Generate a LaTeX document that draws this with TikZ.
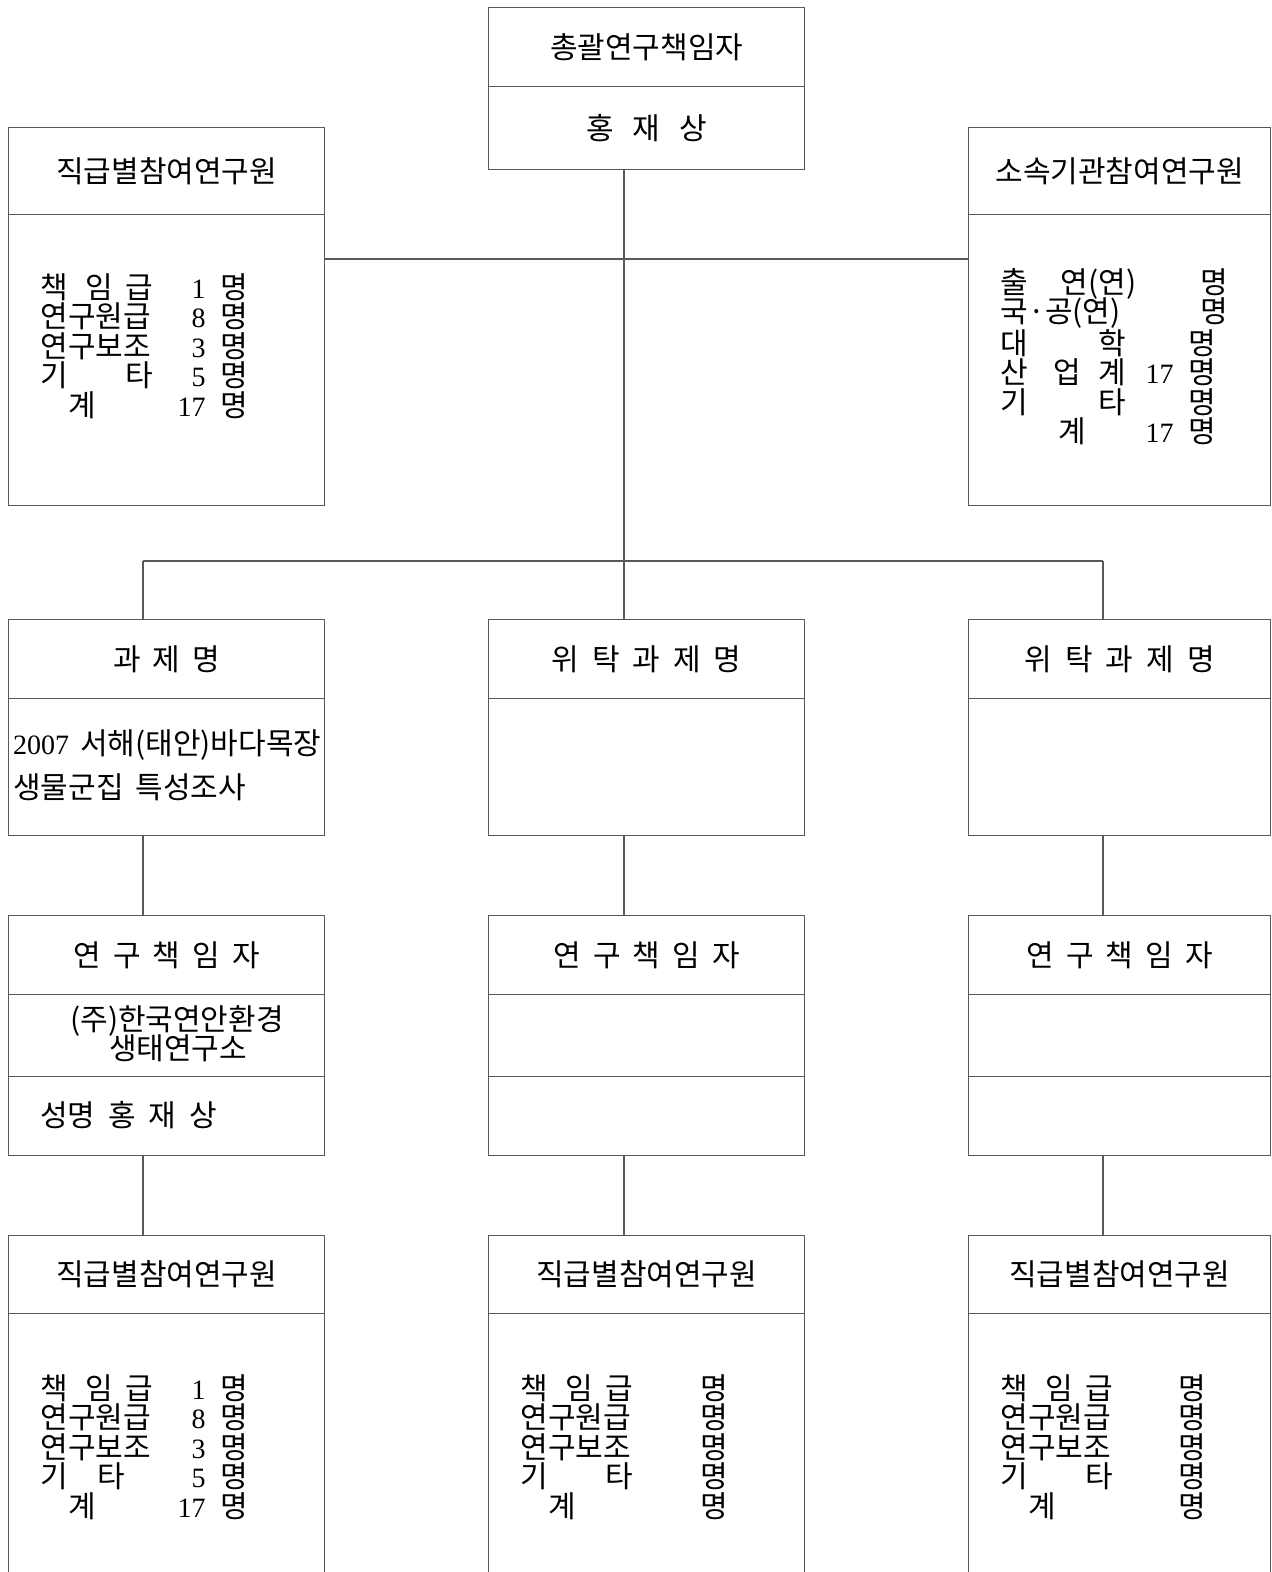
\documentclass[tikz,border=0pt]{standalone}
\usepackage{fontspec}
\setmainfont{Noto Sans CJK KR}
\newfontfamily\lat{Liberation Serif}
\definecolor{linec}{gray}{0.35}
\newcommand\kfs{\fontsize{30}{32}\selectfont}
\newcommand\dfs{\lat\fontsize{28}{30}\selectfont}
\newcommand\putat[2]{\rlap{\hspace{#1pt}#2}}
\newcommand\rnum[2]{\rlap{\hspace{#1pt}\llap{\dfs #2}}}
\begin{document}
\begin{tikzpicture}[x=1pt,y=-1pt,
  cell/.style={draw=linec, line width=1.2pt, rectangle, inner sep=0pt, anchor=north west, font=\kfs},
  lst/.style={anchor=west, inner sep=0pt, font=\kfs},
  ctr/.style={anchor=center, inner sep=0pt, font=\kfs},
  conn/.style={draw=linec, line width=1.2pt}]
\useasboundingbox (0,0) rectangle (1272,1572);
\clip (0,0) rectangle (1272,1572);
\fill[white] (0,0) rectangle (1272,1572);

% top box
\node[cell, minimum width=316pt, minimum height=79pt] (th) at (488,7) {총괄연구책임자};
\node[cell, minimum width=316pt, minimum height=83pt] (tb) at (488,86) {홍\hspace{19pt}재\hspace{19pt}상};
% top left / right
\node[cell, minimum width=316pt, minimum height=87pt] (lh) at (8,127) {직급별참여연구원};
\node[cell, minimum width=316pt, minimum height=291pt] (lb) at (8,214) {};
\node[cell, minimum width=302pt, minimum height=87pt] (rh) at (968,127) {소속기관참여연구원};
\node[cell, minimum width=302pt, minimum height=291pt] (rb) at (968,214) {};

% row 2
\node[cell, minimum width=316pt, minimum height=79pt] (p1h) at (8,619) {과\hspace{12pt}제\hspace{12pt}명};
\node[cell, minimum width=316pt, minimum height=137pt] (p1b) at (8,698) {};
\node[cell, minimum width=316pt, minimum height=79pt] (p2h) at (488,619) {위\hspace{13pt}탁\hspace{13pt}과\hspace{13pt}제\hspace{13pt}명};
\node[cell, minimum width=316pt, minimum height=137pt] (p2b) at (488,698) {};
\node[cell, minimum width=302pt, minimum height=79pt] (p3h) at (968,619) {위\hspace{13pt}탁\hspace{13pt}과\hspace{13pt}제\hspace{13pt}명};
\node[cell, minimum width=302pt, minimum height=137pt] (p3b) at (968,698) {};

% row 3
\node[cell, minimum width=316pt, minimum height=79pt] (q1h) at (8,915) {연\hspace{12pt}구\hspace{12pt}책\hspace{12pt}임\hspace{12pt}자};
\node[cell, minimum width=316pt, minimum height=82pt] (q1a) at (8,994) {};
\node[cell, minimum width=316pt, minimum height=79pt] (q1c) at (8,1076) {};
\node[cell, minimum width=316pt, minimum height=79pt] (q2h) at (488,915) {연\hspace{12pt}구\hspace{12pt}책\hspace{12pt}임\hspace{12pt}자};
\node[cell, minimum width=316pt, minimum height=82pt] (q2a) at (488,994) {};
\node[cell, minimum width=316pt, minimum height=79pt] (q2c) at (488,1076) {};
\node[cell, minimum width=302pt, minimum height=79pt] (q3h) at (968,915) {연\hspace{12pt}구\hspace{12pt}책\hspace{12pt}임\hspace{12pt}자};
\node[cell, minimum width=302pt, minimum height=82pt] (q3a) at (968,994) {};
\node[cell, minimum width=302pt, minimum height=79pt] (q3c) at (968,1076) {};

% row 4 (open at bottom: runs past the page edge)
\node[cell, minimum width=316pt, minimum height=78pt] (s1h) at (8,1235) {직급별참여연구원};
\node[cell, minimum width=316pt, minimum height=300pt] (s1b) at (8,1313) {};
\node[cell, minimum width=316pt, minimum height=78pt] (s2h) at (488,1235) {직급별참여연구원};
\node[cell, minimum width=316pt, minimum height=300pt] (s2b) at (488,1313) {};
\node[cell, minimum width=302pt, minimum height=78pt] (s3h) at (968,1235) {직급별참여연구원};
\node[cell, minimum width=302pt, minimum height=300pt] (s3b) at (968,1313) {};

% connectors
\coordinate (h1) at (624,259);
\coordinate (h2) at (624,561);
\coordinate (xl) at (143,561);
\coordinate (xr) at (1103,561);
\draw[conn] (tb.south -| h1) -- (h2);
\draw[conn] (lb.east |- h1) -- (rb.west |- h1);
\draw[conn] (xl) -- (xr);
\draw[conn] (xl) -- (xl |- p1h.north);
\draw[conn] (h2) -- (h2 |- p2h.north);
\draw[conn] (xr) -- (xr |- p3h.north);
\draw[conn] (p1b.south -| xl) -- (q1h.north -| xl);
\draw[conn] (p2b.south -| h2) -- (q2h.north -| h2);
\draw[conn] (p3b.south -| xr) -- (q3h.north -| xr);
\draw[conn] (q1c.south -| xl) -- (s1h.north -| xl);
\draw[conn] (q2c.south -| h2) -- (s2h.north -| h2);
\draw[conn] (q3c.south -| xr) -- (s3h.north -| xr);

% top-left list
\node[lst] (la1) at (40,287)   {\putat{0}{책}\putat{45}{임}\putat{85}{급}\rnum{165}{1}\putat{180}{명}};
\node[lst] (la2) at (40,316.5) {\putat{0}{연구원급}\rnum{165}{8}\putat{180}{명}};
\node[lst] (la3) at (40,346)   {\putat{0}{연구보조}\rnum{165}{3}\putat{180}{명}};
\node[lst] (la4) at (40,375.5) {\putat{0}{기}\putat{85}{타}\rnum{165}{5}\putat{180}{명}};
\node[lst] (la5) at (40,405)   {\putat{28}{계}\rnum{165}{17}\putat{180}{명}};

% top-right list
\node[lst] (ra1) at (1000,284)   {\putat{0}{출}\putat{60}{연(연)}\putat{200}{명}};
\node[lst] (ra2) at (1000,313.5) {\putat{0}{국·공(연)}\putat{200}{명}};
\node[lst] (ra3) at (1000,343)   {\putat{0}{대}\putat{98}{학}\putat{188}{명}};
\node[lst] (ra4) at (1000,372.5) {\putat{0}{산}\putat{53}{업}\putat{98}{계}\rnum{173}{17}\putat{188}{명}};
\node[lst] (ra5) at (1000,402)   {\putat{0}{기}\putat{98}{타}\putat{188}{명}};
\node[lst] (ra6) at (1000,431.5) {\putat{58}{계}\rnum{173}{17}\putat{188}{명}};

% row 2 left body
\node[lst] (t1) at (13,745) {{\dfs 2007}\hspace{11pt}서해(태안)바다목장};
\node[lst] (t2) at (13,787) {생물군집\hspace{12pt}특성조사};

% row 3 left body
\node[ctr] (c1) at (177,1021) {(주)한국연안환경};
\node[ctr] (c2) at (178,1048) {생태연구소};
\node[lst] (c3) at (40,1115) {성명\hspace{13pt}홍\hspace{13pt}재\hspace{13pt}상};

% bottom-left list
\node[lst] (sa1) at (40,1388)   {\putat{0}{책}\putat{45}{임}\putat{85}{급}\rnum{165}{1}\putat{180}{명}};
\node[lst] (sa2) at (40,1417.5) {\putat{0}{연구원급}\rnum{165}{8}\putat{180}{명}};
\node[lst] (sa3) at (40,1447)   {\putat{0}{연구보조}\rnum{165}{3}\putat{180}{명}};
\node[lst] (sa4) at (40,1476.5) {\putat{0}{기}\putat{57}{타}\rnum{165}{5}\putat{180}{명}};
\node[lst] (sa5) at (40,1506)   {\putat{28}{계}\rnum{165}{17}\putat{180}{명}};

% bottom-middle list
\node[lst] (sb1) at (520,1388)   {\putat{0}{책}\putat{45}{임}\putat{85}{급}\putat{180}{명}};
\node[lst] (sb2) at (520,1417.5) {\putat{0}{연구원급}\putat{180}{명}};
\node[lst] (sb3) at (520,1447)   {\putat{0}{연구보조}\putat{180}{명}};
\node[lst] (sb4) at (520,1476.5) {\putat{0}{기}\putat{85}{타}\putat{180}{명}};
\node[lst] (sb5) at (520,1506)   {\putat{28}{계}\putat{180}{명}};

% bottom-right list
\node[lst] (sc1) at (1000,1388)   {\putat{0}{책}\putat{45}{임}\putat{85}{급}\putat{178}{명}};
\node[lst] (sc2) at (1000,1417.5) {\putat{0}{연구원급}\putat{178}{명}};
\node[lst] (sc3) at (1000,1447)   {\putat{0}{연구보조}\putat{178}{명}};
\node[lst] (sc4) at (1000,1476.5) {\putat{0}{기}\putat{85}{타}\putat{178}{명}};
\node[lst] (sc5) at (1000,1506)   {\putat{28}{계}\putat{178}{명}};
\end{tikzpicture}
\end{document}
